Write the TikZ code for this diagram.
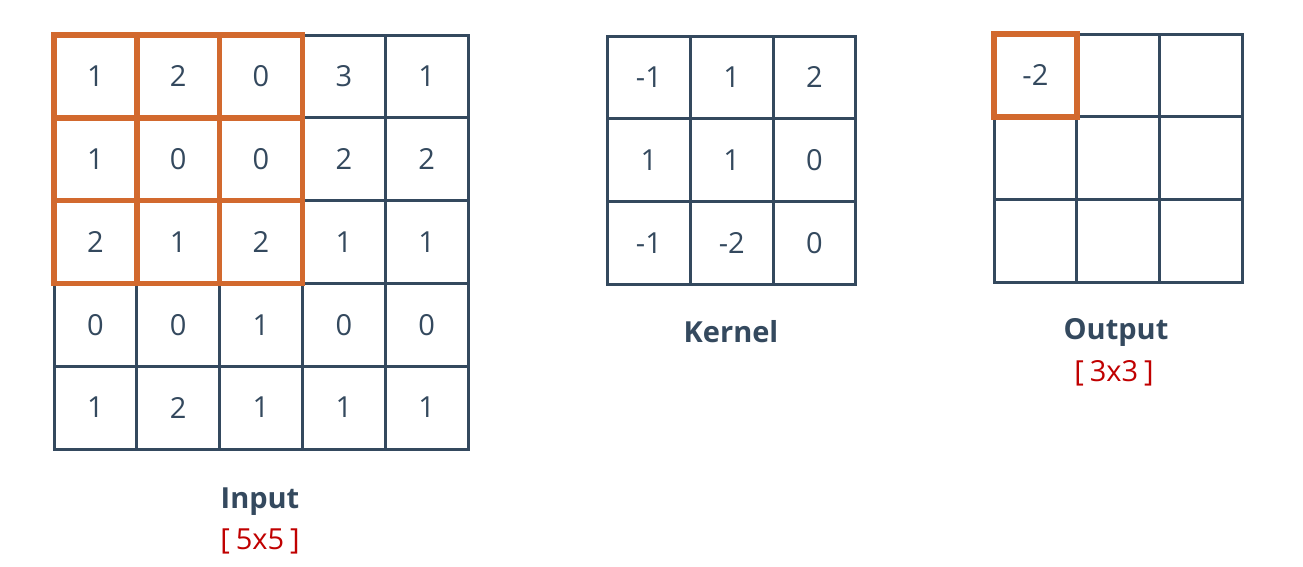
\documentclass[tikz,border=0pt]{standalone}
\usepackage{fontspec}
\setmainfont{Open Sans}
\definecolor{slate}{HTML}{34495E}
\definecolor{hl}{HTML}{D2692E}
\definecolor{dimred}{HTML}{C00000}
\begin{document}
\begin{tikzpicture}[x=1pt,y=-1pt,
  cell/.style={draw=slate, line width=3pt, minimum size=82.8pt, inner sep=0pt, outer sep=0pt, text=slate, font=\fontsize{29}{34}\selectfont},
  hlbox/.style={draw=hl, line width=5.5pt},
  title/.style={text=slate, font=\fontsize{29}{34}\selectfont\bfseries},
  dims/.style={text=dimred, font=\fontsize{29}{34}\selectfont}]
\useasboundingbox (0,0) rectangle (1303,566);
\fill[white] (0,0) rectangle (1303,566);
% Input 5x5
\foreach \row [count=\r] in {{1,2,0,3,1},{1,0,0,2,2},{2,1,2,1,1},{0,0,1,0,0},{1,2,1,1,1}} {
  \foreach \v [count=\c] in \row {
    \node[cell] (in\r\c) at ({54+(\c-0.5)*82.8},{35+(\r-0.5)*82.8}) {\v};
  }
}
% Kernel 3x3
\foreach \row [count=\r] in {{-1,1,2},{1,1,0},{-1,-2,0}} {
  \foreach \v [count=\c] in \row {
    \node[cell] (k\r\c) at ({607.5+(\c-0.5)*82.8},{36+(\r-0.5)*82.8}) {\v};
  }
}
% Output 3x3
\foreach \r in {1,2,3} {
  \foreach \c in {1,2,3} {
    \node[cell] (o\r\c) at ({994+(\c-0.5)*82.8},{34+(\r-0.5)*82.8}) {};
  }
}
\node[text=slate, font=\fontsize{29}{34}\selectfont] (oval) at (o11) {-2};
% Highlights
\foreach \r in {1,2,3} {
  \foreach \c in {1,2,3} {
    \draw[hlbox] (in\r\c.north west) rectangle (in\r\c.south east);
  }
}
\draw[hlbox] (o11.north west) rectangle (o11.south east);
% Labels
\node[title] (lin) at (260,502) {Input};
\node[dims] (din) at (260,541) {[\kern6pt5x5\kern6pt]};
\node[title] (lk) at (731,332) {Kernel};
\node[title] (lout) at (1116,332) {Output};
\node[dims] (dout) at (1114,373) {[\kern6pt3x3\kern6pt]};
\end{tikzpicture}
\end{document}
